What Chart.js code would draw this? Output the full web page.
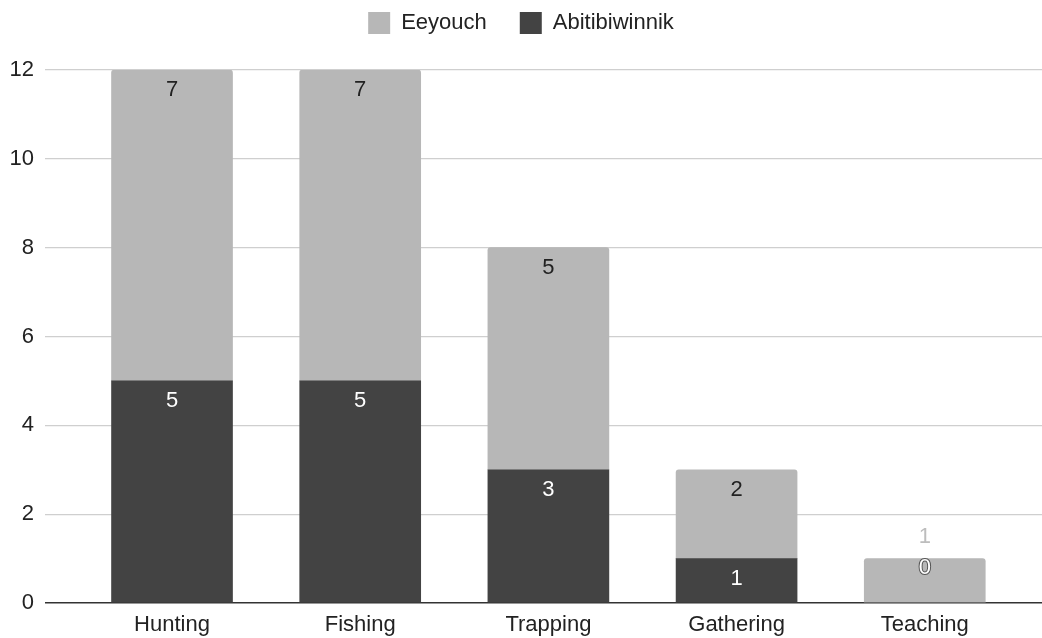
<!DOCTYPE html>
<html>
  <head>
    <script src="https://cdn.jsdelivr.net/npm/chart.js@4.4.1/dist/chart.umd.min.js"></script>
    <style>
      body { margin: 0; background: #fff; }
      #wrap { width: 1042px; height: 638px; }
    </style>
  </head>
  <body>
    <div id="wrap"><canvas id="barChart"></canvas></div>
    <script>
      // activities along the bottom
      const categories = ['Hunting', 'Fishing', 'Trapping', 'Gathering', 'Teaching'];
      const eeyouch = [7, 7, 5, 2, 1];
      const abitibiwinnik = [5, 5, 3, 1, 0];
      const yTicks = [0, 2, 4, 6, 8, 10, 12];

      const FONT = "'Liberation Sans', Arial, sans-serif";
      const LIGHT = '#b7b7b7';
      const DARK = '#434343';

      // x is a linear scale so the bars can sit with a wider margin on the left
      function points(values) {
        return values.map((v, i) => ({ x: i, y: v }));
      }

      // numbers drawn on top of each segment
      const valueLabels = {
        id: 'valueLabels',
        afterDatasetsDraw(chart) {
          const ctx = chart.ctx;
          ctx.save();
          ctx.font = '22px ' + FONT;
          ctx.textAlign = 'center';
          ctx.textBaseline = 'middle';
          chart.data.datasets.forEach((ds, di) => {
            const meta = chart.getDatasetMeta(di);
            meta.data.forEach((bar, i) => {
              const v = ds.data[i].y;
              const txt = String(v);
              // segment below is empty, its label already sits in this one
              const below = di > 0 ? chart.data.datasets[di - 1].data[i].y : 1;
              if (v === 0) {
                ctx.lineWidth = 2;
                ctx.strokeStyle = '#555';
                ctx.strokeText(txt, bar.x, bar.y - 35);
                ctx.fillStyle = '#fff';
                ctx.fillText(txt, bar.x, bar.y - 35);
              } else if (below === 0) {
                ctx.fillStyle = '#bdbdbd';
                ctx.fillText(txt, bar.x, bar.y - 22);
              } else {
                ctx.fillStyle = ds.labelColor;
                ctx.fillText(txt, bar.x, bar.y + 20);
              }
            });
          });
          ctx.restore();
        }
      };

      // fixed legend band height so the plot starts where it should
      const legendBand = {
        id: 'legendBand',
        beforeInit(chart) {
          const fit = chart.legend.fit;
          chart.legend.fit = function () {
            fit.call(this);
            this.height = 91;
          };
        }
      };

      const ctx = document.getElementById('barChart').getContext('2d');
      const barChart = new Chart(ctx, {
        type: 'bar',
        data: {
          datasets: [
            {
              label: 'Abitibiwinnik',
              data: points(abitibiwinnik),
              backgroundColor: DARK,
              labelColor: '#fff',
              barThickness: 121
            },
            {
              label: 'Eeyouch',
              data: points(eeyouch),
              backgroundColor: LIGHT,
              labelColor: '#222',
              borderRadius: { topLeft: 3, topRight: 3, bottomLeft: 0, bottomRight: 0 },
              borderSkipped: false,
              barThickness: 121
            }
          ]
        },
        options: {
          responsive: true,
          maintainAspectRatio: false,
          animation: false,
          layout: { padding: { top: -21, left: 0, right: 0, bottom: 0 } },
          plugins: {
            legend: {
              position: 'top',
              reverse: true,
              labels: {
                boxWidth: 22,
                boxHeight: 22,
                padding: 33,
                color: '#222',
                font: { family: FONT, size: 22 },
                generateLabels(chart) {
                  return chart.data.datasets.map((ds, i) => ({
                    text: ds.label,
                    fillStyle: ds.backgroundColor,
                    strokeStyle: ds.backgroundColor,
                    lineWidth: 0,
                    datasetIndex: i,
                    fontColor: '#222'
                  }));
                }
              }
            },
            tooltip: { enabled: false }
          },
          scales: {
            x: {
              type: 'linear',
              stacked: true,
              offset: false,
              min: -0.675,
              max: 4.623,
              afterBuildTicks(scale) {
                scale.ticks = categories.map((c, i) => ({ value: i }));
              },
              afterFit(scale) {
                scale.height = 35;
              },
              ticks: {
                autoSkip: false,
                maxRotation: 0,
                padding: 9,
                color: '#222',
                font: { family: FONT, size: 22 },
                callback: (v) => categories[v]
              },
              grid: { display: false, drawTicks: false, offset: false },
              border: { display: false }
            },
            y: {
              stacked: true,
              min: 0,
              max: 12,
              afterBuildTicks(scale) {
                scale.ticks = yTicks.map(v => ({ value: v }));
              },
              afterFit(scale) {
                scale.width = 45;
              },
              ticks: {
                padding: 11,
                color: '#222',
                font: { family: FONT, size: 22 }
              },
              grid: {
                drawTicks: false,
                lineWidth: (c) => c.tick && c.tick.value === 0 ? 1.5 : 1.2,
                color: (c) => c.tick && c.tick.value === 0 ? '#333' : '#cfcfcf'
              },
              border: { display: false }
            }
          }
        },
        plugins: [legendBand, valueLabels]
      });
    </script>
  </body>
</html>
